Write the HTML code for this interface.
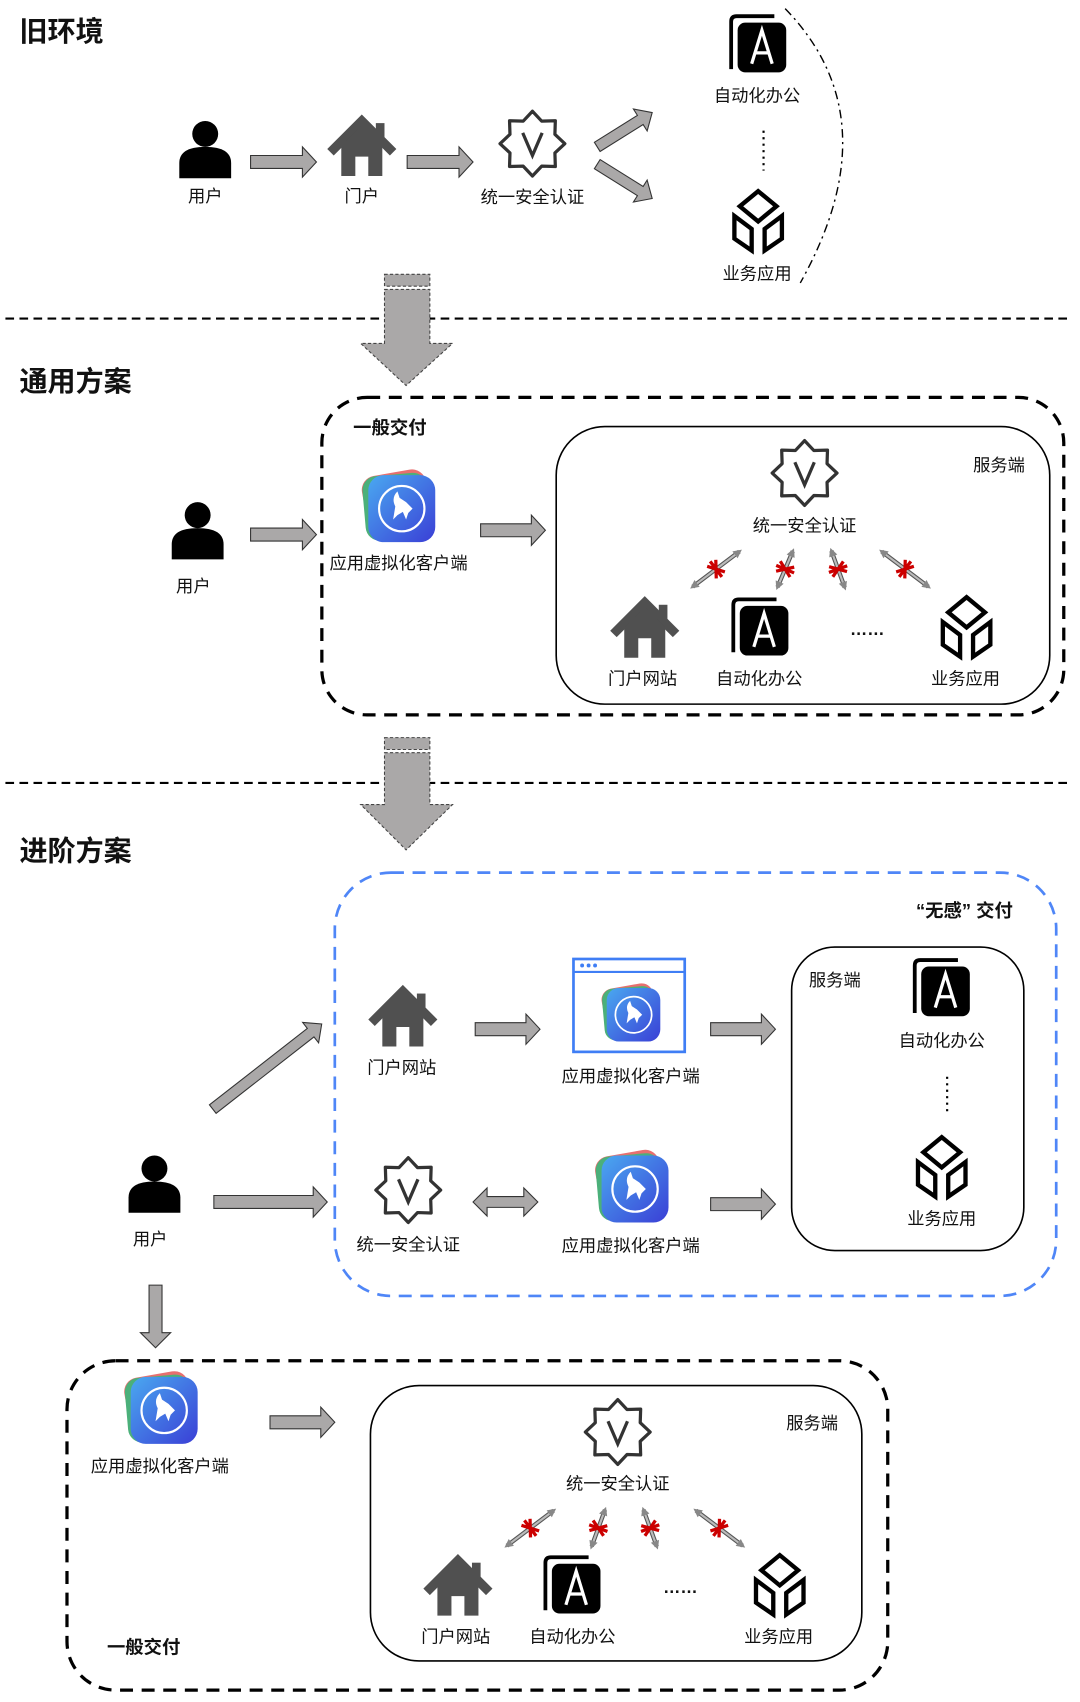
<!DOCTYPE html>
<html><head><meta charset="utf-8"><style>
html,body{margin:0;padding:0;background:#fff;}
svg{display:block;}
text{font-family:"Liberation Sans","Noto Sans CJK SC",sans-serif;fill:#111;}
.l{font-size:16px;text-anchor:middle;}
.t{font-size:26px;font-weight:bold;}
.b{font-size:17px;font-weight:bold;}
.d{font-size:16px;text-anchor:middle;font-weight:bold;}
</style></head><body>
<svg width="1080" height="1702" viewBox="0 0 1000 1576" xmlns="http://www.w3.org/2000/svg">
<defs>
<linearGradient id="bg" x1="0" y1="0" x2="1" y2="1"><stop offset="0" stop-color="#4aa8f0"/><stop offset="1" stop-color="#3a3fd6"/></linearGradient>
<g id="person"><circle cx="0" cy="-13" r="12" fill="#000"/><path d="M-24,28 L-24,14 Q-24,-1 0,-1 Q24,-1 24,14 L24,28 Z" fill="#000"/></g>
<g id="house" fill="#505050"><path d="M0,-29 L32,3 L26,9 L0,-17 L-26,9 L-32,3 Z"/><rect x="13" y="-21" width="8" height="14"/><path d="M-19,0 L0,-19 L19,0 L19,28 L6,28 L6,10 L-6,10 L-6,28 L-19,28 Z"/></g>
<g id="star"><polygon points="0,-30 8.6,-20.8 21.2,-21.2 20.8,-8.6 30,0 20.8,8.6 21.2,21.2 8.6,20.8 0,30 -8.6,20.8 -21.2,21.2 -20.8,8.6 -30,0 -20.8,-8.6 -21.2,-21.2 -8.6,-20.8" fill="#fff" stroke="#333" stroke-width="3" stroke-linejoin="round"/><path d="M-9,-10 L0,11 L9,-10" fill="none" stroke="#333" stroke-width="3"/></g>
<g id="aicon"><path d="M-26,22 L-26,-22 Q-26,-27 -21,-27 L14,-27" fill="none" stroke="#000" stroke-width="3.5"/><rect x="-20" y="-21" width="45" height="46" rx="7" fill="#000"/><path d="M-7,17 L2.5,-14 L12,17 M-3,7 L8,7" fill="none" stroke="#fff" stroke-width="3"/></g>
<g id="boxi" fill="none" stroke="#000" stroke-width="4" stroke-linejoin="miter"><path d="M0,-27 L17,-13 L0,1 L-17,-13 Z"/><path d="M-22,-4 L-22,17 L-6,28 L-6,8 Z"/><path d="M22,-4 L22,17 L6,28 L6,8 Z"/></g>
<g id="app"><rect x="-32" y="-32" width="60" height="60" rx="13" fill="#e86f6f" transform="rotate(-10)"/><rect x="-33" y="-30" width="60" height="60" rx="13" fill="#4bb07a" transform="rotate(-5)"/><rect x="-29" y="-29" width="62" height="62" rx="14" fill="url(#bg)"/><circle cx="2" cy="2" r="21" fill="none" stroke="#fff" stroke-width="2"/><path d="M-6,12 L-4,0 Q-8,-8 -2,-14 L0,-8 L6,-4 L12,2 L8,6 L6,12 L3,5 L-2,8 Z" fill="#fff"/></g>
</defs>

<!-- Section 1 -->
<text x="18" y="38" class="t">旧环境</text>
<use href="#person" x="190" y="137"/>
<text x="190" y="187" class="l">用户</text>
<polygon points="232,144 280,144 280,136 293,150 280,164 280,156 232,156" fill="#aaa8a8" stroke="#333"/>
<use href="#house" x="335" y="135"/>
<text x="335" y="187" class="l">门户</text>
<polygon points="377,144 425,144 425,136 438,150 425,164 425,156 377,156" fill="#aaa8a8" stroke="#333"/>
<use href="#star" x="493" y="133"/>
<text x="493" y="188" class="l">统一安全认证</text>
<g transform="translate(553,136) rotate(-32)"><polygon points="0,-5 47,-5 47,-12 60,0 47,12 47,5 0,5" fill="#aaa8a8" stroke="#333"/></g>
<g transform="translate(553,152) rotate(32)"><polygon points="0,-5 47,-5 47,-12 60,0 47,12 47,5 0,5" fill="#aaa8a8" stroke="#333"/></g>
<use href="#aicon" x="703" y="42"/>
<text x="701" y="94" class="l">自动化办公</text>
<line x1="707" y1="121" x2="707" y2="158" stroke="#000" stroke-width="2" stroke-dasharray="2 4"/>
<use href="#boxi" x="702" y="204"/>
<text x="701" y="259" class="l">业务应用</text>
<path d="M727,8 Q826,110 741,262" fill="none" stroke="#000" stroke-width="1.3" stroke-dasharray="8 4 2 4"/>

<line x1="5" y1="295" x2="988" y2="295" stroke="#000" stroke-width="2" stroke-dasharray="8 5"/>
<g fill="#aaa8a8" stroke="#444" stroke-dasharray="3 2" stroke-width="1">
<rect x="356" y="254" width="42" height="11"/>
<polygon points="356,268 398,268 398,318 419,318 376,357 334,318 356,318"/>
</g>

<!-- Section 2 -->
<text x="18" y="362" class="t">通用方案</text>
<rect x="298" y="368" width="687" height="294" rx="42" fill="none" stroke="#000" stroke-width="3" stroke-dasharray="12 8"/>
<text x="327" y="402" class="b">一般交付</text>
<use href="#person" x="183" y="490"/>
<text x="179" y="548" class="l">用户</text>
<polygon points="232,489 280,489 280,481 293,495 280,509 280,501 232,501" fill="#aaa8a8" stroke="#333"/>
<use href="#app" x="370" y="469"/>
<text x="369" y="527" class="l">应用虚拟化客户端</text>
<polygon points="445,485 492,485 492,477 505,491 492,505 492,497 445,497" fill="#aaa8a8" stroke="#333"/>
<rect x="515" y="395" width="457" height="257" rx="45" fill="none" stroke="#000" stroke-width="1.5"/>
<text x="925" y="436" class="l" fill="#333">服务端</text>
<use href="#star" x="745" y="438"/>
<text x="745" y="492" class="l">统一安全认证</text>
<g transform="translate(663,527) rotate(-37)"><line x1="-27" y1="0" x2="27" y2="0" stroke="#555" stroke-width="4"/><line x1="-27" y1="0" x2="27" y2="0" stroke="#bbb" stroke-width="2"/><polygon points="-30,0 -22,-4 -22,4" fill="#888"/><polygon points="30,0 22,-4 22,4" fill="#888"/><path d="M-5,-7 L5,7 M-5,7 L5,-7 M0,-9 L0,9" stroke="#c00" stroke-width="3"/></g>
<g transform="translate(727,527) rotate(-67)"><line x1="-18" y1="0" x2="18" y2="0" stroke="#555" stroke-width="4"/><line x1="-18" y1="0" x2="18" y2="0" stroke="#bbb" stroke-width="2"/><polygon points="-21,0 -13,-4 -13,4" fill="#888"/><polygon points="21,0 13,-4 13,4" fill="#888"/><path d="M-5,-7 L5,7 M-5,7 L5,-7 M0,-9 L0,9" stroke="#c00" stroke-width="3"/></g>
<g transform="translate(776,527) rotate(-110)"><line x1="-18" y1="0" x2="18" y2="0" stroke="#555" stroke-width="4"/><line x1="-18" y1="0" x2="18" y2="0" stroke="#bbb" stroke-width="2"/><polygon points="-21,0 -13,-4 -13,4" fill="#888"/><polygon points="21,0 13,-4 13,4" fill="#888"/><path d="M-5,-7 L5,7 M-5,7 L5,-7 M0,-9 L0,9" stroke="#c00" stroke-width="3"/></g>
<g transform="translate(838,527) rotate(-143)"><line x1="-27" y1="0" x2="27" y2="0" stroke="#555" stroke-width="4"/><line x1="-27" y1="0" x2="27" y2="0" stroke="#bbb" stroke-width="2"/><polygon points="-30,0 -22,-4 -22,4" fill="#888"/><polygon points="30,0 22,-4 22,4" fill="#888"/><path d="M-5,-7 L5,7 M-5,7 L5,-7 M0,-9 L0,9" stroke="#c00" stroke-width="3"/></g>
<use href="#house" x="597" y="581"/>
<use href="#aicon" x="705" y="582"/>
<text x="803" y="588" class="d">……</text>
<use href="#boxi" x="895" y="580"/>
<text x="595" y="634" class="l">门户网站</text>
<text x="703" y="634" class="l">自动化办公</text>
<text x="894" y="634" class="l">业务应用</text>

<line x1="5" y1="725" x2="988" y2="725" stroke="#000" stroke-width="2" stroke-dasharray="8 5"/>
<g fill="#aaa8a8" stroke="#444" stroke-dasharray="3 2" stroke-width="1">
<rect x="356" y="683" width="42" height="11"/>
<polygon points="356,697 398,697 398,745 419,745 376,787 334,745 356,745"/>
</g>

<!-- Section 3 -->
<text x="18" y="797" class="t">进阶方案</text>
<rect x="310" y="808" width="668" height="392" rx="52" fill="none" stroke="#4f86f7" stroke-width="2.5" stroke-dasharray="12 8"/>
<text x="893" y="849" class="b" text-anchor="middle">“无感” 交付</text>
<use href="#person" x="143" y="1095"/>
<text x="139" y="1153" class="l">用户</text>
<g transform="translate(197,1027) rotate(-38)"><polygon points="0,-5 115,-5 115,-12 128,0 115,12 115,5 0,5" fill="#aaa8a8" stroke="#333"/></g>
<polygon points="198,1107 290,1107 290,1099 303,1113 290,1127 290,1119 198,1119" fill="#aaa8a8" stroke="#333"/>
<polygon points="138,1190 150,1190 150,1234 158,1234 144,1248 130,1234 138,1234" fill="#aaa8a8" stroke="#333"/>
<use href="#house" x="373" y="941"/>
<text x="372" y="994" class="l">门户网站</text>
<polygon points="440,947 487,947 487,939 500,953 487,967 487,959 440,959" fill="#aaa8a8" stroke="#333"/>
<rect x="531" y="888" width="103" height="86" fill="#fff" stroke="#3f7ef5" stroke-width="2.5"/>
<line x1="531" y1="900" x2="634" y2="900" stroke="#3f7ef5" stroke-width="2"/>
<circle cx="539" cy="894" r="1.8" fill="#3f7ef5"/><circle cx="545" cy="894" r="1.8" fill="#3f7ef5"/><circle cx="551" cy="894" r="1.8" fill="#3f7ef5"/>
<g transform="translate(585,938) scale(0.8)"><use href="#app"/></g>
<text x="584" y="1002" class="l">应用虚拟化客户端</text>
<polygon points="658,947 705,947 705,939 718,953 705,967 705,959 658,959" fill="#aaa8a8" stroke="#333"/>
<use href="#star" x="378" y="1102"/>
<text x="378" y="1158" class="l">统一安全认证</text>
<polygon points="438,1113 451,1100 451,1108 485,1108 485,1100 498,1113 485,1126 485,1118 451,1118 451,1126" fill="#aaa8a8" stroke="#333"/>
<use href="#app" x="586" y="1099"/>
<text x="584" y="1159" class="l">应用虚拟化客户端</text>
<polygon points="658,1109 705,1109 705,1101 718,1115 705,1129 705,1121 658,1121" fill="#aaa8a8" stroke="#333"/>
<rect x="733" y="877" width="215" height="281" rx="40" fill="none" stroke="#000" stroke-width="1.5"/>
<text x="773" y="913" class="l" fill="#333">服务端</text>
<use href="#aicon" x="873" y="916"/>
<text x="872" y="969" class="l">自动化办公</text>
<line x1="877" y1="997" x2="877" y2="1033" stroke="#000" stroke-width="2" stroke-dasharray="2 4"/>
<use href="#boxi" x="872" y="1080"/>
<text x="872" y="1134" class="l">业务应用</text>

<!-- bottom box -->
<rect x="62" y="1260" width="760" height="305" rx="45" fill="none" stroke="#000" stroke-width="3" stroke-dasharray="12 8"/>
<use href="#app" x="150" y="1304"/>
<text x="148" y="1363" class="l">应用虚拟化客户端</text>
<polygon points="250,1311 297,1311 297,1303 310,1317 297,1331 297,1323 250,1323" fill="#aaa8a8" stroke="#333"/>
<text x="133" y="1531" class="b" text-anchor="middle">一般交付</text>
<rect x="343" y="1283" width="455" height="255" rx="45" fill="none" stroke="#000" stroke-width="1.5"/>
<text x="752" y="1323" class="l" fill="#333">服务端</text>
<use href="#star" x="572" y="1326"/>
<text x="572" y="1379" class="l">统一安全认证</text>
<g transform="translate(491,1415) rotate(-37)"><line x1="-27" y1="0" x2="27" y2="0" stroke="#555" stroke-width="4"/><line x1="-27" y1="0" x2="27" y2="0" stroke="#bbb" stroke-width="2"/><polygon points="-30,0 -22,-4 -22,4" fill="#888"/><polygon points="30,0 22,-4 22,4" fill="#888"/><path d="M-5,-7 L5,7 M-5,7 L5,-7 M0,-9 L0,9" stroke="#c00" stroke-width="3"/></g>
<g transform="translate(554,1415) rotate(-70)"><line x1="-18" y1="0" x2="18" y2="0" stroke="#555" stroke-width="4"/><line x1="-18" y1="0" x2="18" y2="0" stroke="#bbb" stroke-width="2"/><polygon points="-21,0 -13,-4 -13,4" fill="#888"/><polygon points="21,0 13,-4 13,4" fill="#888"/><path d="M-5,-7 L5,7 M-5,7 L5,-7 M0,-9 L0,9" stroke="#c00" stroke-width="3"/></g>
<g transform="translate(602,1415) rotate(-110)"><line x1="-18" y1="0" x2="18" y2="0" stroke="#555" stroke-width="4"/><line x1="-18" y1="0" x2="18" y2="0" stroke="#bbb" stroke-width="2"/><polygon points="-21,0 -13,-4 -13,4" fill="#888"/><polygon points="21,0 13,-4 13,4" fill="#888"/><path d="M-5,-7 L5,7 M-5,7 L5,-7 M0,-9 L0,9" stroke="#c00" stroke-width="3"/></g>
<g transform="translate(666,1415) rotate(-143)"><line x1="-27" y1="0" x2="27" y2="0" stroke="#555" stroke-width="4"/><line x1="-27" y1="0" x2="27" y2="0" stroke="#bbb" stroke-width="2"/><polygon points="-30,0 -22,-4 -22,4" fill="#888"/><polygon points="30,0 22,-4 22,4" fill="#888"/><path d="M-5,-7 L5,7 M-5,7 L5,-7 M0,-9 L0,9" stroke="#c00" stroke-width="3"/></g>
<use href="#house" x="424" y="1468"/>
<use href="#aicon" x="531" y="1469"/>
<text x="630" y="1475" class="d">……</text>
<use href="#boxi" x="722" y="1467"/>
<text x="422" y="1521" class="l">门户网站</text>
<text x="530" y="1521" class="l">自动化办公</text>
<text x="721" y="1521" class="l">业务应用</text>
</svg>
</body></html>
